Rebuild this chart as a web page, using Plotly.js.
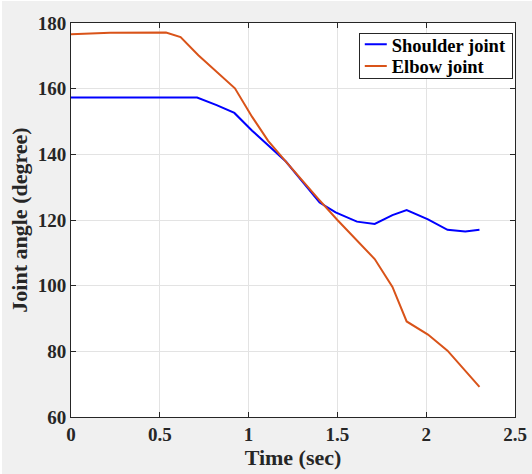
<!DOCTYPE html>
<html>
<head>
<meta charset="utf-8">
<script src="https://cdn.plot.ly/plotly-3.0.1.min.js"></script>
<style>
html,body{margin:0;padding:0;background:#ffffff;}
#wrap{position:relative;width:532px;height:474px;}
#chart{width:532px;height:474px;}
#edgeL{position:absolute;left:0;top:0;width:2px;height:474px;background:#ffffff;}
#edgeT{position:absolute;left:0;top:0;width:532px;height:1px;background:#ffffff;}
</style>
</head>
<body>
<div id="wrap"><div id="chart"></div><div id="edgeL"></div><div id="edgeT"></div></div>
<script>
const shoulderTime = [0, 0.16, 0.3, 0.45, 0.61, 0.71, 0.82, 0.92, 1.02, 1.12, 1.21, 1.31, 1.40, 1.49, 1.61, 1.71, 1.81, 1.89, 2.01, 2.12, 2.22, 2.30];
const shoulderAngle = [157.3, 157.3, 157.5, 157.5, 157.5, 157.3, 155.0, 152.6, 147.2, 142.3, 137.8, 131.2, 125.3, 122.3, 119.5, 118.8, 121.5, 123.0, 120.2, 117.0, 116.5, 117.0];
const elbowTime = [0, 0.22, 0.535, 0.617, 0.717, 0.82, 0.923, 1.02, 1.11, 1.21, 1.33, 1.39, 1.50, 1.61, 1.71, 1.81, 1.89, 2.01, 2.12, 2.30];
const elbowAngle = [176.6, 177.0, 177.1, 175.7, 170.2, 165.1, 160.1, 151.4, 144.1, 137.8, 130.1, 126.6, 120.0, 113.9, 108.1, 99.6, 89.1, 85.1, 80.2, 69.2];
const xTicks = [0, 0.5, 1, 1.5, 2, 2.5];
const xTickLabels = ['0', '0.5', '1', '1.5', '2', '2.5'];
const yTicks = [60, 80, 100, 120, 140, 160, 180];

const fam = '"Liberation Serif", "Times New Roman", serif';
const traces = [
  {x: shoulderTime, y: shoulderAngle, name: 'Shoulder joint', mode: 'lines', line: {color: '#0000ff', width: 2}},
  {x: elbowTime, y: elbowAngle, name: 'Elbow joint', mode: 'lines', line: {color: '#d95319', width: 2}}
];
const axisCommon = {showline: true, mirror: 'ticks', linecolor: '#262626', linewidth: 1, ticks: 'inside', ticklen: 5, tickcolor: '#262626', showgrid: true, gridcolor: '#e3e3e3', zeroline: false, tickfont: {family: fam, size: 19, color: '#262626', weight: 'bold'}};
const layout = {
  width: 532, height: 474,
  paper_bgcolor: '#f0f0f0', plot_bgcolor: '#ffffff',
  margin: {l: 71, r: 17, t: 23, b: 57},
  font: {family: fam, size: 18, color: '#262626'},
  showlegend: true,
  legend: {x: 0.995, y: 0.975, xanchor: 'right', yanchor: 'top', bgcolor: '#ffffff', bordercolor: '#262626', borderwidth: 1, font: {family: fam, size: 18.5, color: '#000000', weight: 'bold'}, tracegroupgap: 0, itemwidth: 30},
  xaxis: Object.assign({}, axisCommon, {range: [0, 2.5], tickvals: xTicks, ticktext: xTickLabels, title: {text: 'Time (sec)', standoff: 5, font: {family: fam, size: 22, color: '#262626', weight: 'bold'}}}),
  yaxis: Object.assign({}, axisCommon, {range: [60, 180], tickvals: yTicks, title: {text: 'Joint angle (degree)', standoff: 4, font: {family: fam, size: 22, color: '#262626', weight: 'bold'}}})
};
Plotly.newPlot('chart', traces, layout, {displayModeBar: false, staticPlot: true}).then(function (gd) {
  // tighten the legend box like MATLAB's compact legend
  const leg = gd.querySelector('.legend');
  if (!leg) return;
  const shrink = 8, rowH = 21.7, firstY = 11.5, boxH = 45;
  const lt = /translate\(([-\d.e]+)[ ,]+([-\d.e]+)\)/.exec(leg.getAttribute('transform') || '');
  if (lt) leg.setAttribute('transform', 'translate(' + (parseFloat(lt[1]) + shrink) + ',' + lt[2] + ')');
  const bg = leg.querySelector('rect.bg');
  if (bg) {
    bg.setAttribute('width', parseFloat(bg.getAttribute('width')) - shrink);
    bg.setAttribute('height', boxH);
  }
  const items = leg.querySelectorAll('g.traces');
  items.forEach(function (it, i) {
    const m = /translate\(([-\d.e]+)[ ,]+([-\d.e]+)\)/.exec(it.getAttribute('transform') || '');
    const x0 = m ? parseFloat(m[1]) : 0;
    it.setAttribute('transform', 'translate(' + x0 + ',' + (firstY + i * rowH) + ')');
    it.querySelectorAll('.legendlines path').forEach(function (p) { p.setAttribute('d', 'M5,0h' + (30 - shrink)); });
    const t = it.querySelector('text.legendtext');
    if (t) t.setAttribute('x', parseFloat(t.getAttribute('x')) - shrink);
  });
});
</script>
</body>
</html>
